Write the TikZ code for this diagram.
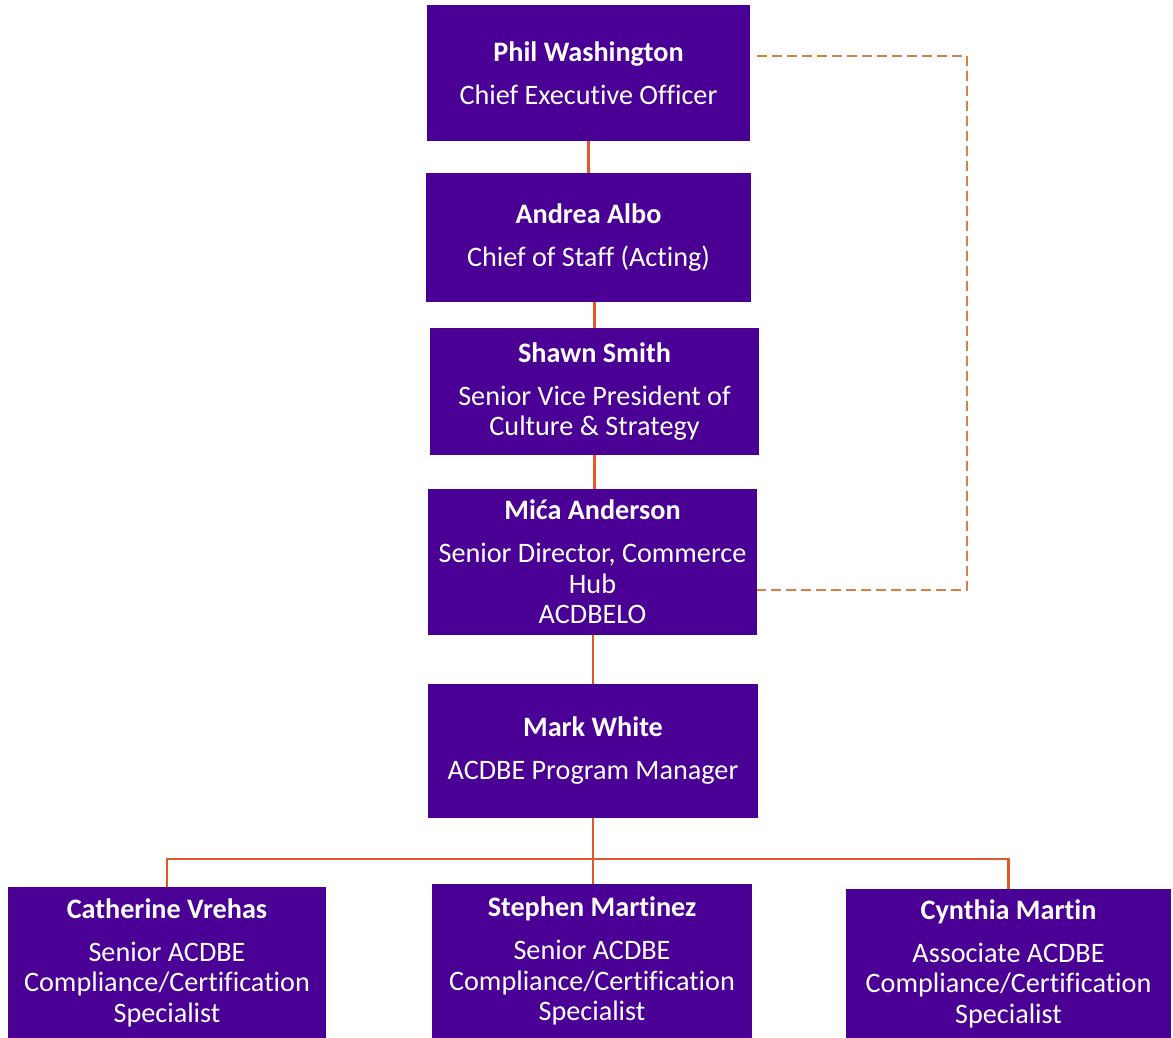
\documentclass[tikz,border=0pt]{standalone}
\usepackage{fontspec}
\setmainfont[RawFeature=-liga]{Carlito}
\usepackage{tikz}
\usetikzlibrary{positioning, calc}

\definecolor{boxpurple}{RGB}{74,0,148}
\definecolor{lineorange}{RGB}{226,88,40}
\definecolor{dashorange}{RGB}{217,128,70}

\begin{document}
\begin{tikzpicture}[x=1pt, y=-1pt,
    person/.style={draw=none, fill=boxpurple, text=white, align=center,
      inner sep=0pt, font=\fontsize{28.2}{30.5}\selectfont},
    link/.style={lineorange, line width=2.4pt},
    dotted link/.style={dashorange, line width=1.6pt, dash pattern=on 10pt off 5pt}]
    \useasboundingbox (0,0) rectangle (1173,1038);
    % top chain
    \node[person, minimum width=323, minimum height=136] (ceo) at (588.5,73)
      {\textbf{Phil Washington}\\[12.5pt]Chief Executive Officer};
    \node[person, minimum width=325, minimum height=129] (cos) at (588.5,237.5)
      {\textbf{Andrea Albo}\\[12.5pt]Chief of Staff (Acting)};
    \node[person, minimum width=329, minimum height=127] (svp) at (594.5,391.5)
      {\textbf{Shawn Smith}\\[12.5pt]Senior Vice President of\\Culture \& Strategy};
    \node[person, minimum width=329, minimum height=146] (dir) at (592.5,562)
      {\textbf{Mića Anderson}\\[12.5pt]Senior Director, Commerce\\Hub\\ACDBELO};
    \node[person, minimum width=330, minimum height=134] (mgr) at (593,751)
      {\textbf{Mark White}\\[12.5pt]ACDBE Program Manager};
    % specialists
    \node[person, minimum width=318, minimum height=151] (cv) at (167,962.5)
      {\textbf{Catherine Vrehas}\\[12.5pt]Senior ACDBE\\Compliance/Certification\\Specialist};
    \node[person, minimum width=320, minimum height=154] (sm) at (592,961)
      {\textbf{Stephen Martinez}\\[12.5pt]Senior ACDBE\\Compliance/Certification\\Specialist};
    \node[person, minimum width=325, minimum height=149] (cm) at (1008.5,963.5)
      {\textbf{Cynthia Martin}\\[12.5pt]Associate ACDBE\\Compliance/Certification\\Specialist};

    \draw[link] (ceo.south) -- (cos.north);
    \draw[link] (svp.north |- cos.south) -- (svp.north);
    \draw[link] (svp.south) -- (dir.north -| svp.south);
    \draw[link] (dir.south -| mgr.south) -- (mgr.north);
    \coordinate (split) at ($(mgr.south)+(0,41)$);
    \draw[link] (mgr.south) -- (split);
    \draw[link] (split) -| (cv.north);
    \draw[link] (split) -| (cm.north);
    \draw[link] (split) -- (sm.north -| split);

    % dotted reporting line
    \coordinate (dtop) at ($(ceo.east)+(7,-17)$);
    \coordinate (dbot) at ($(dir.east)+(0,28)$);
    \draw[dotted link] (dtop) -- (dtop -| 967,0) -- (dbot -| 967,0) -- (dbot);
\end{tikzpicture}
\end{document}
